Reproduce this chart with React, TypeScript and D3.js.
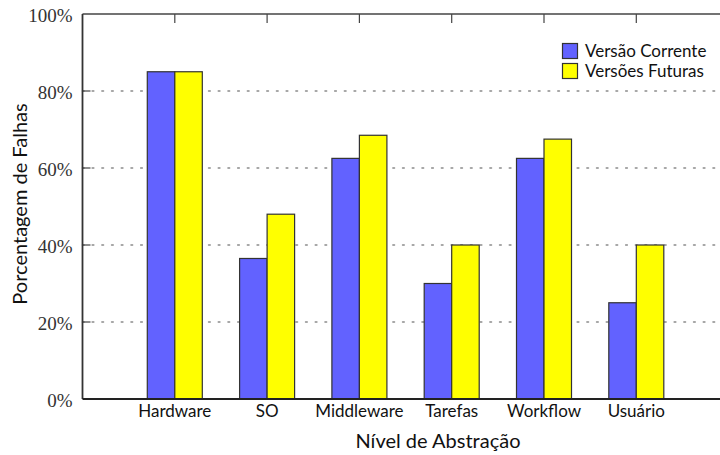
import React from "react";
import * as d3 from "d3";

const categories = ["Hardware", "SO", "Middleware", "Tarefas", "Workflow", "Usuário"];
const versaoCorrente = [85, 36.5, 62.5, 30, 62.5, 25];
const versoesFuturas = [85, 48, 68.5, 40, 67.5, 40];
const yTicks = [0, 20, 40, 60, 80, 100];
const seriesNames = ["Versão Corrente", "Versões Futuras"];
const seriesColors = ["#6262ff", "#ffff00"];

const W = 720;
const H = 455;
const left = 82.5;
const top = 14;
const bottom = 399;
const step = 92.3;

export default function App() {
  const x = d3.scaleLinear().domain([0, 7]).range([left, left + step * 7]);
  const y = d3.scaleLinear().domain([0, 100]).range([bottom, top]);
  const barW = x(0.298) - x(0);
  const font = "Lato, 'Open Sans', sans-serif";
  const series = [versaoCorrente, versoesFuturas];

  return (
    <svg width={W} height={H} style={{ position: "absolute", left: 0, top: 0, background: "#fff" }}>
      {yTicks.filter((t) => t > 0 && t < 100).map((t) => (
        <g key={t}>
          <line x1={x(0)} x2={W} y1={y(t)} y2={y(t)} stroke="#8a8a8a" strokeWidth={1.6}
            strokeDasharray="1.6,8.1" strokeLinecap="round" />
          <line x1={x(0)} x2={x(0) + 8} y1={y(t)} y2={y(t)} stroke="#444" strokeWidth={1.2} />
        </g>
      ))}
      {categories.map((c, i) => (
        <g key={c}>
          {series.map((s, k) => (
            <rect key={k}
              x={k === 0 ? x(i + 1) - barW : x(i + 1)}
              y={y(s[i])}
              width={barW}
              height={y(0) - y(s[i])}
              fill={seriesColors[k]}
              stroke="#333"
              strokeWidth={1.2} />
          ))}
        </g>
      ))}
      {categories.map((c, i) => (
        <line key={c} x1={x(i + 1)} x2={x(i + 1)} y1={y(100)} y2={y(100) + 9} stroke="#444" strokeWidth={1.2} />
      ))}
      <line x1={x(0)} x2={W} y1={y(100)} y2={y(100)} stroke="#444" strokeWidth={1.5} />
      <line x1={x(0)} x2={x(0)} y1={y(100)} y2={y(0)} stroke="#333" strokeWidth={1.8} />
      <line x1={x(0)} x2={W} y1={y(0)} y2={y(0)} stroke="#222" strokeWidth={2} />
      {yTicks.map((t) => (
        <text key={t} x={x(0) - 10} y={y(t) + 8} textAnchor="end"
          fontFamily="'Liberation Serif', 'DejaVu Serif', serif" fontSize={19} fill="#333">
          {t}%
        </text>
      ))}
      {categories.map((c, i) => (
        <text key={c} x={x(i + 1)} y={417} textAnchor="middle" fontFamily={font} fontSize={17} fill="#111">
          {c}
        </text>
      ))}
      <text x={438} y={448} textAnchor="middle" fontFamily={font} fontSize={20} fill="#111">
        Nível de Abstração
      </text>
      <text transform="translate(27,204) rotate(-90)" textAnchor="middle" fontFamily={font} fontSize={20} fill="#111">
        Porcentagem de Falhas
      </text>
      {seriesNames.map((n, k) => (
        <g key={n} transform={`translate(562,${43 + k * 20})`}>
          <rect x={0.5} y={0.5} width={15} height={15} fill={seriesColors[k]} stroke="#333" strokeWidth={1.2} />
          <text x={23} y={14} fontFamily={font} fontSize={17} fill="#111">{n}</text>
        </g>
      ))}
    </svg>
  );
}
